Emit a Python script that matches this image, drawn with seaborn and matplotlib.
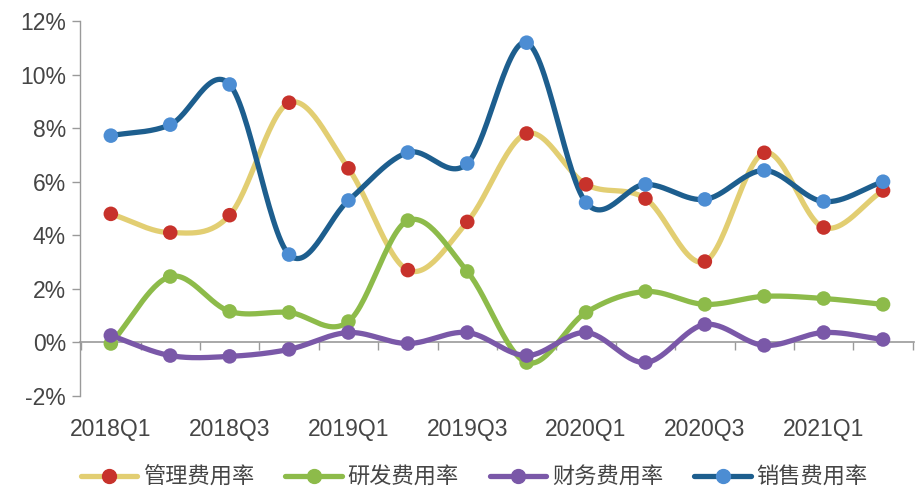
import numpy as np
import pandas as pd
import matplotlib
matplotlib.use("Agg")
import matplotlib.pyplot as plt
import seaborn as sns
from matplotlib.lines import Line2D

quarters = ["2018Q1", "2018Q2", "2018Q3", "2018Q4", "2019Q1", "2019Q2", "2019Q3",
            "2019Q4", "2020Q1", "2020Q2", "2020Q3", "2020Q4", "2021Q1", "2021Q2"]
admin_rate = [4.8, 4.1, 4.75, 8.95, 6.5, 2.7, 4.5, 7.8, 5.9, 5.37, 3.02, 7.08, 4.29, 5.67]
rnd_rate = [-0.04, 2.46, 1.16, 1.12, 0.78, 4.55, 2.65, -0.75, 1.12, 1.9, 1.42, 1.72, 1.64, 1.42]
fin_rate = [0.26, -0.49, -0.52, -0.26, 0.37, -0.04, 0.37, -0.49, 0.37, -0.75, 0.67, -0.11, 0.37, 0.11]
sales_rate = [7.72, 8.13, 9.63, 3.28, 5.3, 7.09, 6.68, 11.19, 5.22, 5.9, 5.34, 6.42, 5.26, 6.0]

series_names = ["管理费用率", "研发费用率", "财务费用率", "销售费用率"]
series_values = [admin_rate, rnd_rate, fin_rate, sales_rate]
line_colors = ["#E2CE72", "#8DBB4A", "#7A58A8", "#1D5E8E"]
marker_colors = ["#C7322B", "#8DBB4A", "#7A58A8", "#4C8DD3"]

sns.set_theme(style="white")
plt.rcParams["font.family"] = ["Liberation Sans", "Noto Sans CJK SC", "DejaVu Sans"]


def smooth(x, y, n=30):
    """Catmull-Rom spline through the points, for a smoothed line."""
    x = np.asarray(x, float)
    y = np.asarray(y, float)
    px = np.concatenate([[2 * x[0] - x[1]], x, [2 * x[-1] - x[-2]]])
    py = np.concatenate([[2 * y[0] - y[1]], y, [2 * y[-1] - y[-2]]])
    xs, ys = [], []
    t = np.linspace(0, 1, n, endpoint=False)
    for i in range(1, len(px) - 2):
        for arr, out in ((px, xs), (py, ys)):
            p0, p1, p2, p3 = arr[i - 1], arr[i], arr[i + 1], arr[i + 2]
            out.append(0.5 * ((2 * p1) + (-p0 + p2) * t
                              + (2 * p0 - 5 * p1 + 4 * p2 - p3) * t ** 2
                              + (-p0 + 3 * p1 - 3 * p2 + p3) * t ** 3))
    xs.append([x[-1]])
    ys.append([y[-1]])
    return np.concatenate(xs), np.concatenate(ys)


fig = plt.figure(figsize=(9.19, 4.88), dpi=100)
ax = fig.add_axes([0.087, 0.1885, 0.9075, 0.7685])

xpos = np.arange(len(quarters))
for name, vals, lc, mc in zip(series_names, series_values, line_colors, marker_colors):
    sx, sy = smooth(xpos, vals)
    sns.lineplot(x=sx, y=sy, ax=ax, color=lc, linewidth=3.8, sort=False,
                 estimator=None, legend=False)
    df = pd.DataFrame({"x": xpos, "v": vals})
    sns.scatterplot(data=df, x="x", y="v", ax=ax, color=mc, s=110,
                    edgecolor="none", legend=False, zorder=5)

axis_gray = "#9A9A9A"
text_gray = "#454545"
ax.set_xlim(-0.52, len(quarters) - 0.48)
ax.set_ylim(-2, 12)
ax.set_yticks(np.arange(-2, 13, 2))
ax.set_yticklabels([f"{v}%" for v in range(-2, 13, 2)])
ax.tick_params(axis="y", direction="out", length=6, width=1, color=axis_gray,
               labelsize=16.5, labelcolor=text_gray, pad=4, left=True)

for s in ["top", "right"]:
    ax.spines[s].set_visible(False)
ax.spines["left"].set_color(axis_gray)
ax.spines["left"].set_linewidth(1)
ax.spines["bottom"].set_position(("data", 0))
ax.spines["bottom"].set_color(axis_gray)
ax.spines["bottom"].set_linewidth(1.2)
ax.spines["bottom"].set_zorder(1)

# tick marks between quarters on the zero line
ax.set_xticks(np.arange(len(quarters) + 1) - 0.5)
ax.set_xticklabels([])
ax.tick_params(axis="x", direction="out", length=6, width=1, color=axis_gray,
               bottom=True)
ax.set_xlabel("")
ax.set_ylabel("")

# quarter labels below the plot area
sec = ax.secondary_xaxis("bottom")
sec.set_xticks(xpos[::2])
sec.set_xticklabels(quarters[::2])
sec.tick_params(length=0, labelsize=16.5, labelcolor=text_gray, pad=16)
sec.spines["bottom"].set_visible(False)

handles = [Line2D([0], [0], color=lc, linewidth=3.8, marker="o", markersize=10,
                  markerfacecolor=mc, markeredgecolor=mc)
           for lc, mc in zip(line_colors, marker_colors)]
fig.legend(handles, series_names, loc="center", bbox_to_anchor=(0.516, 0.022),
           ncol=4, frameon=False, handlelength=2.55, handletextpad=0.25,
           columnspacing=1.4, prop={"family": ["Noto Sans CJK SC", "DejaVu Sans"],
                                    "size": 16}, labelcolor=text_gray,
           borderpad=0.1)

fig.savefig("out.png", dpi=100, facecolor="white")
